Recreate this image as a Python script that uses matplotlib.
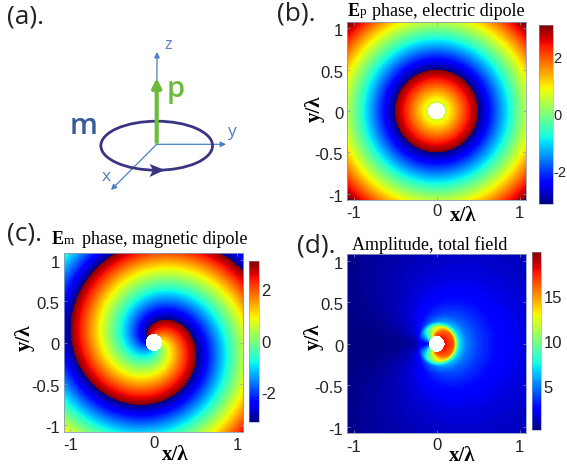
import numpy as np
import matplotlib
matplotlib.use("Agg")
import matplotlib.pyplot as plt
from matplotlib.patches import Ellipse, Polygon, FancyArrowPatch
from matplotlib.transforms import ScaledTranslation

# --- values ---
pos_ticks = [-1, -0.5, 0, 0.5, 1]
pos_labels = ['-1', '-0.5', '0', '0.5', '1']
x_ticks = [-1, 0, 1]
x_labels = ['-1', '0', '1']
phase_cbar_ticks = [-2, 0, 2]
amp_cbar_ticks = [5, 10, 15]
amp_range = [0.2, 20.0]
amp_step = 0.2
# Amplitude read along the +x ray (panel d)
ray_r = [0.08, 0.10, 0.14, 0.20, 0.22, 0.25, 0.27, 0.36, 0.50, 0.75, 1.00, 1.60]
ray_amp = [26.0, 24.0, 20.0, 16.5, 13.0, 8.5, 7.0, 5.0, 3.8, 2.6, 2.0, 1.1]
amp_ceiling = 19.0      # the hottest colour seen next to the hole
amp_floor = 0.12        # residual share on the -x side
phase_period = 1.0      # radial phase period, in wavelengths (read from the rings)
spiral_offset = 0.1     # angular offset of the spiral's jump line
hole_radius = 0.1
half_range = 1.076

# The 2-D fields are modelled from those readings: wrapped radial phase,
# wrapped radial + azimuthal phase, and the ray amplitude times |cos(theta/2)|.
W, H = 567, 470
fig = plt.figure(figsize=(W / 100, H / 100), dpi=100)
SANS = 'Liberation Sans'
SERIF = 'Liberation Serif'
PANEL = 'Open Sans'
SPINE = '#8c9bb5'
TICK_FS = 12


def box(x0, y0, x1, y1):
    return [x0 / W, 1 - y1 / H, (x1 - x0) / W, (y1 - y0) / H]


def txt(x, y, s, **kw):
    kw.setdefault('ha', 'center')
    kw.setdefault('va', 'center')
    return fig.text(x / W, 1 - y / H, s, **kw)


axis_vals = np.linspace(-half_range, half_range, 600)
X, Y = np.meshgrid(axis_vals, axis_vals)
R = np.hypot(X, Y)
T = np.arctan2(Y, X)


def wrap(a):
    return np.angle(np.exp(1j * a))


phase_b = wrap(2 * np.pi * R / phase_period)
phase_c = wrap(2 * np.pi * R / phase_period + T + spiral_offset)
ray = np.exp(np.interp(R, ray_r, np.log(ray_amp)))
amp_d = ray * np.sqrt(np.cos(T / 2) ** 2 + amp_floor ** 2)
# Soft saturation towards the ceiling so the ring stays red, dark only at the edge.
amp_d = np.where(amp_d > 16, 16 + (amp_ceiling - 16) * (1 - np.exp(-(amp_d - 16) / 8)), amp_d)
amp_d = np.maximum(amp_d, amp_range[0])
for arr in (phase_b, phase_c, amp_d):
    arr[R < hole_radius] = np.nan
extent = [-half_range, half_range, -half_range, half_range]


def style(ax, xlab_xy, ylab_xy, xt_y):
    ax.set_xlim(-half_range, half_range)
    ax.set_ylim(-half_range, half_range)
    ax.set_aspect('auto')
    ax.set_xticks(x_ticks)
    ax.set_xticklabels([])
    ax.set_yticks(pos_ticks)
    ax.set_yticklabels(pos_labels, fontsize=TICK_FS, family=SANS, color='#222222')
    ax.tick_params(direction='in', length=2, width=0.5, color=SPINE, pad=3,
                   top=True, right=True)
    shift = ScaledTranslation(0, -2 / 100, fig.dpi_scale_trans)
    for lab in ax.get_yticklabels():
        lab.set_transform(lab.get_transform() + shift)
    for s in ax.spines.values():
        s.set_linewidth(0.6)
        s.set_color(SPINE)
    # The x tick labels sit at slightly different heights in the reference.
    for v, lab in zip(x_ticks, x_labels):
        dy = -2 if v == 0 else 0
        ax.annotate(lab, (v, 0), xycoords=('data', 'axes fraction'),
                    xytext=(0, -(xt_y + dy) * 0.72), textcoords='offset points',
                    ha='center', va='center', fontsize=TICK_FS, family=SANS,
                    color='#222222')
    txt(*xlab_xy, 'x/λ', fontsize=15, family=SERIF, fontweight='bold')
    txt(*ylab_xy, 'y/λ', fontsize=15, family=SERIF, fontweight='bold',
        rotation=90)


def cbar(mappable, rect, ticks, fs=TICK_FS, pad=2):
    cax = fig.add_axes(box(*rect))
    cb = fig.colorbar(mappable, cax=cax)
    cb.set_ticks(ticks)
    cb.set_ticklabels([str(t) for t in ticks])
    cax.tick_params(length=0, pad=pad, labelsize=fs, labelcolor='#222222')
    for t in cax.get_yticklabels():
        t.set_family(SANS)
    cb.outline.set_linewidth(0.4)
    cb.outline.set_edgecolor(SPINE)
    return cb


# Panel (b)
ax_b = fig.add_axes(box(347.3, 22, 526, 200))
im_b = ax_b.imshow(phase_b, origin='lower', extent=extent, cmap='jet',
                   vmin=-np.pi, vmax=np.pi, interpolation='nearest')
style(ax_b, (462.7, 216), (315, 109), 13)
cbar(im_b, (539, 25, 552.7, 204), phase_cbar_ticks, fs=10.5, pad=0.5)

# Panel (c)
ax_c = fig.add_axes(box(64, 253.3, 243.3, 431.7))
im_c = ax_c.imshow(phase_c, origin='lower', extent=extent, cmap='jet',
                   vmin=-np.pi, vmax=np.pi, interpolation='nearest')
style(ax_c, (175, 455), (25, 338), 14)
cbar(im_c, (249.3, 260.7, 258.7, 422.3), phase_cbar_ticks)

# Panel (d)
ax_d = fig.add_axes(box(347.3, 254.3, 526, 433.3))
levels = np.arange(amp_range[0], amp_range[1] + amp_step, amp_step)
im_d = ax_d.contourf(X, Y, amp_d, levels=levels, cmap='jet',
                     vmin=amp_range[0], vmax=amp_range[1])
style(ax_d, (461.7, 456), (314, 337), 14)
cbar(im_d, (531.7, 251.7, 541, 430), amp_cbar_ticks)

# Titles
txt(348, 11, 'E', family=SERIF, fontweight='bold', fontsize=13, ha='left')
txt(360, 12, 'p', family=SERIF, fontsize=9.5, ha='left')
txt(372.5, 11, 'phase, electric dipole', family=SERIF, fontsize=13, ha='left')
txt(52, 240, 'E', family=SERIF, fontweight='bold', fontsize=13, ha='left')
txt(64, 241, 'm', family=SERIF, fontsize=9.5, ha='left')
txt(82, 240, 'phase, magnetic dipole', family=SERIF, fontsize=13, ha='left')
txt(351.7, 245, 'Amplitude, total field', family=SERIF, fontsize=13, ha='left')

# Panel letters
for x, y, s in [(7, 17, '(a).'), (277, 14, '(b).'), (7, 234, '(c).'), (297, 246, '(d).')]:
    txt(x, y, s, family=PANEL, fontsize=19, ha='left', color='#222222')

# Schematic (a)
sk = fig.add_axes([0, 0, 1, 1], zorder=-1)
sk.set_xlim(0, W)
sk.set_ylim(H, 0)
sk.axis('off')
AXC = '#4a7fc1'
ox, oy = 156.7, 144.3
for end in [(157, 52), (226, 144.3), (111, 190)]:
    sk.add_patch(FancyArrowPatch((ox, oy), end, arrowstyle='-|>', mutation_scale=8,
                                 lw=0.9, color=AXC, shrinkA=0, shrinkB=0))
sk.add_patch(Ellipse((156.7, 145.7), 111.7, 49, fill=False, ec='#3a3580', lw=2))
sk.add_patch(Polygon([(149.5, 164), (165, 170), (149.5, 177), (153, 170)],
                     closed=True, fc='#3a3580', ec='none'))
sk.add_patch(FancyArrowPatch((156.7, 142), (156.7, 78), arrowstyle='-|>',
                             mutation_scale=13, lw=3, color='#6cbb3c',
                             shrinkA=0, shrinkB=0))
sk.text(168, 45, 'z', color='#5b7fc0', fontsize=11.5, family=PANEL, ha='center', va='center')
sk.text(231, 132, 'y', color=AXC, fontsize=12.5, family=PANEL, ha='center', va='center')
sk.text(106, 177, 'x', color=AXC, fontsize=12.5, family=PANEL, ha='center', va='center')
sk.text(176, 89, 'p', color='#6cbb3c', fontsize=21, family=PANEL, fontweight='semibold',
        ha='center', va='center')
sk.text(84, 127, 'm', color='#3b5a9a', fontsize=21, family=PANEL, fontweight='semibold',
        ha='center', va='center')

fig.savefig('out.png', dpi=100)
